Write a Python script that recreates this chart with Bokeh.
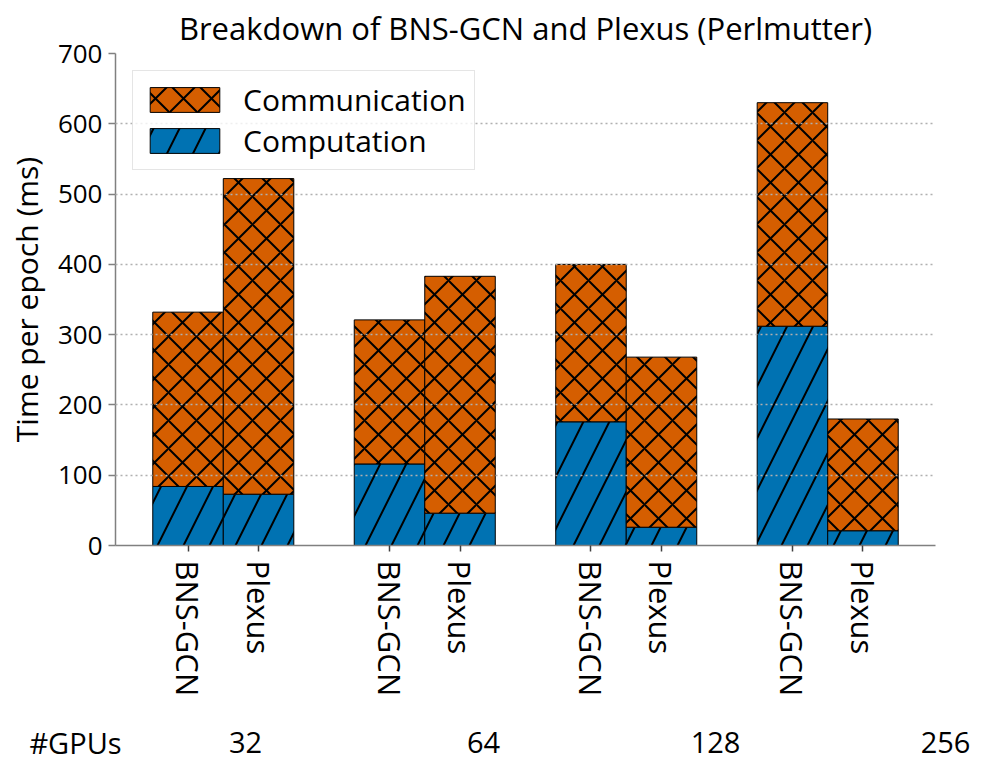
from bokeh.plotting import figure
from bokeh.layouts import column
from bokeh.models import ColumnDataSource, FixedTicker, Legend, LegendItem, Range1d
from bokeh.core.properties import value
from bokeh.embed import file_html
from bokeh.resources import INLINE

# ---- data ----
gpus = ["32", "64", "128", "256"]
systems = ["BNS-GCN", "Plexus"]
bns_comp = [84, 116, 176, 312]
bns_comm = [248, 205, 224, 318]
plexus_comp = [73, 46, 26, 21]
plexus_comm = [449, 337, 242, 159]
y_ticks = [0, 100, 200, 300, 400, 500, 600, 700]
row_header = "#GPUs"

ORANGE = "#D55E00"
BLUE = "#0072B2"
FONT = "Open Sans"
W = 0.35

xs_bns = [i - W / 2 for i in range(len(gpus))]
xs_plx = [i + W / 2 for i in range(len(gpus))]
xs = xs_bns + xs_plx
comp = bns_comp + plexus_comp
comm = bns_comm + plexus_comm
top = [a + b for a, b in zip(comp, comm)]
src = ColumnDataSource(dict(x=xs, comp=comp, top=top))

p = figure(width=980, height=715, output_backend="svg", toolbar_location=None,
           x_range=Range1d(-0.535, 3.535), y_range=Range1d(0, 700),
           min_border_left=115, min_border_right=45, min_border_top=53, min_border_bottom=170)
p.outline_line_color = None
p.background_fill_color = "white"
p.border_fill_color = "white"

p.title.text = "Breakdown of BNS-GCN and Plexus (Perlmutter)"
p.title.align = "center"
p.title.text_font = FONT
p.title.text_font_size = "31px"
p.title.text_font_style = "normal"
p.title.text_color = "black"
p.title.standoff = 9

r_comp = p.vbar(x="x", width=W, bottom=0, top="comp", source=src, fill_color=BLUE,
                line_color="black", line_width=1, hatch_pattern="/", hatch_color="black",
                hatch_scale=52, hatch_weight=2)
r_comm = p.vbar(x="x", width=W, bottom="comp", top="top", source=src, fill_color=ORANGE,
                line_color="black", line_width=1, hatch_pattern="x", hatch_color="black",
                hatch_scale=28, hatch_weight=2)

# axes
tick_pos = sorted(xs)
labels = {}
for xb in xs_bns:
    labels[xb] = systems[0]
for xp in xs_plx:
    labels[xp] = systems[1]
p.xaxis.ticker = FixedTicker(ticks=tick_pos)
p.xaxis.major_label_overrides = labels
p.xaxis.major_label_orientation = "vertical"
p.xaxis.major_label_text_font = FONT
p.xaxis.major_label_text_font_size = "31px"
p.xaxis.major_label_text_color = "black"
p.xaxis.major_label_standoff = 9
p.xaxis.minor_tick_line_color = None
p.xaxis.major_tick_in = 0
p.xaxis.major_tick_out = 6
p.xaxis.axis_line_color = "#808080"
p.xaxis.axis_line_width = 1.5
p.xaxis.major_tick_line_color = "#404040"
p.xaxis.major_tick_line_width = 1.5

p.yaxis.ticker = FixedTicker(ticks=y_ticks)
p.yaxis.axis_label = "Time per epoch (ms)"
p.yaxis.axis_label_text_font = FONT
p.yaxis.axis_label_text_font_size = "30px"
p.yaxis.axis_label_text_font_style = "normal"
p.yaxis.axis_label_text_color = "black"
p.yaxis.axis_label_standoff = 8
p.yaxis.major_label_text_font = FONT
p.yaxis.major_label_text_font_size = "26px"
p.yaxis.major_label_text_color = "black"
p.yaxis.major_label_standoff = 6
p.yaxis.minor_tick_line_color = None
p.yaxis.major_tick_in = 0
p.yaxis.major_tick_out = 7
p.yaxis.axis_line_color = "#808080"
p.yaxis.axis_line_width = 1.5
p.yaxis.major_tick_line_color = "#808080"
p.yaxis.major_tick_line_width = 1.5

p.xgrid.visible = False
p.ygrid.grid_line_color = "#b0b0b0"
p.ygrid.grid_line_dash = "2 3"
p.ygrid.grid_line_width = 1.3
p.ygrid.level = "guide"

legend = Legend(items=[LegendItem(label="Communication", renderers=[r_comm]),
                       LegendItem(label="Computation", renderers=[r_comp])],
                location="top_left", margin=17, padding=8, spacing=0,
                glyph_width=87, glyph_height=31, label_standoff=15, label_height=36,
                label_text_font=FONT, label_text_font_size="30px", label_text_color="black",
                border_line_color="#cccccc", border_line_width=1.5,
                background_fill_alpha=0.8)
p.add_layout(legend)

# row of group labels beneath the chart
row_labels = [row_header] + gpus
row_label_px = [75, 245, 483, 715, 945]
p2 = figure(width=980, height=55, output_backend="svg", toolbar_location=None,
            x_range=Range1d(0, 980), y_range=Range1d(0, 55),
            x_axis_type=None, y_axis_type=None, frame_align=False,
            min_border_left=0, min_border_right=0, min_border_top=0, min_border_bottom=0)
p2.outline_line_color = None
p2.xgrid.visible = False
p2.ygrid.visible = False
p2.text(x=row_label_px, y=[28] * len(row_labels), text=row_labels,
        text_font=value(FONT), text_font_size="29px", text_color="black",
        text_align="center", text_baseline="middle")

layout = column(p, p2, spacing=0)
open("out.html", "w").write(file_html(layout, INLINE))
